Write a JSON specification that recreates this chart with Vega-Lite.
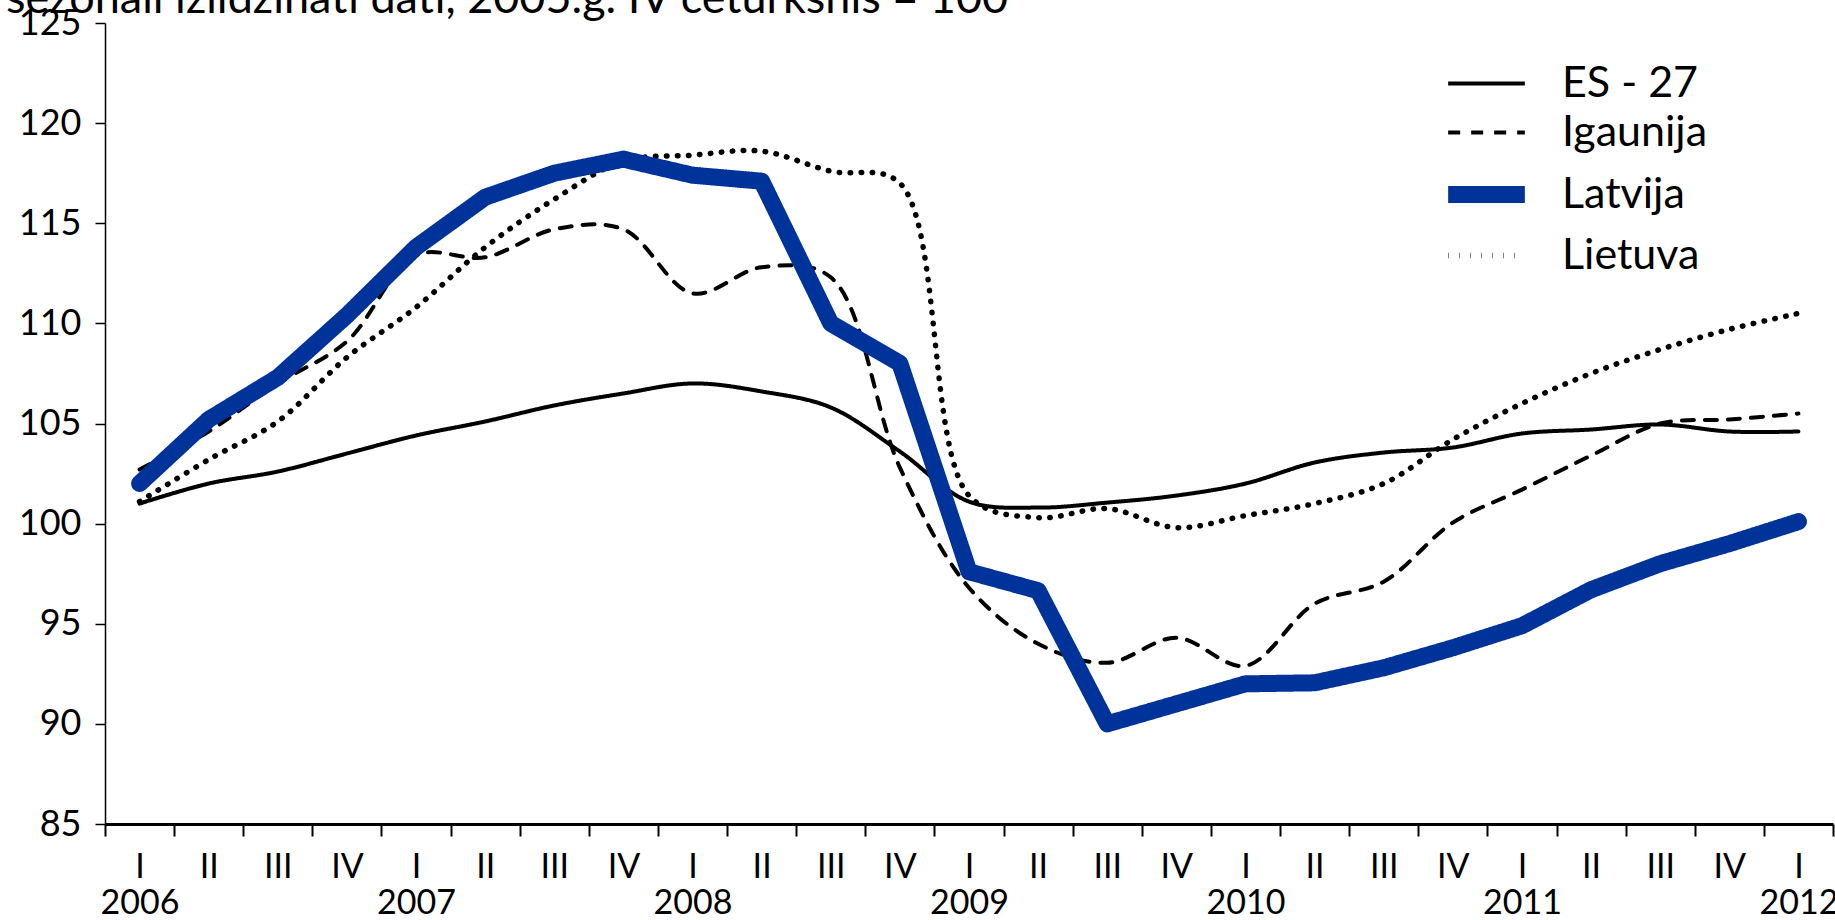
{
  "$schema": "https://vega.github.io/schema/vega-lite/v6.json",
  "autosize": "none",
  "width": 1728,
  "height": 801,
  "padding": {"left": 105, "top": 23, "right": 2, "bottom": 96},
  "background": "white",
  "title": {
    "text": "sezonāli izlīdzināti dati, 2005.g. IV ceturksnis = 100",
    "anchor": "start",
    "frame": "group",
    "orient": "top",
    "baseline": "alphabetic",
    "offset": 0,
    "dx": -99,
    "dy": 53,
    "font": "Lato",
    "fontSize": 45,
    "fontWeight": "normal",
    "color": "black"
  },
  "config": {
    "view": {"stroke": null},
    "font": "Lato"
  },
  "datasets": {
    "rows": [
      {"period": "2006-I", "series": "ES - 27", "value": 101.0},
      {"period": "2006-II", "series": "ES - 27", "value": 102.0},
      {"period": "2006-III", "series": "ES - 27", "value": 102.6},
      {"period": "2006-IV", "series": "ES - 27", "value": 103.5},
      {"period": "2007-I", "series": "ES - 27", "value": 104.4},
      {"period": "2007-II", "series": "ES - 27", "value": 105.1},
      {"period": "2007-III", "series": "ES - 27", "value": 105.9},
      {"period": "2007-IV", "series": "ES - 27", "value": 106.5},
      {"period": "2008-I", "series": "ES - 27", "value": 107.0},
      {"period": "2008-II", "series": "ES - 27", "value": 106.6},
      {"period": "2008-III", "series": "ES - 27", "value": 105.8},
      {"period": "2008-IV", "series": "ES - 27", "value": 103.6},
      {"period": "2009-I", "series": "ES - 27", "value": 101.1},
      {"period": "2009-II", "series": "ES - 27", "value": 100.8},
      {"period": "2009-III", "series": "ES - 27", "value": 101.05},
      {"period": "2009-IV", "series": "ES - 27", "value": 101.4},
      {"period": "2010-I", "series": "ES - 27", "value": 102.0},
      {"period": "2010-II", "series": "ES - 27", "value": 103.05},
      {"period": "2010-III", "series": "ES - 27", "value": 103.55},
      {"period": "2010-IV", "series": "ES - 27", "value": 103.8},
      {"period": "2011-I", "series": "ES - 27", "value": 104.5},
      {"period": "2011-II", "series": "ES - 27", "value": 104.7},
      {"period": "2011-III", "series": "ES - 27", "value": 104.95},
      {"period": "2011-IV", "series": "ES - 27", "value": 104.6},
      {"period": "2012-I", "series": "ES - 27", "value": 104.6},

      {"period": "2006-I", "series": "Igaunija", "value": 102.7},
      {"period": "2006-II", "series": "Igaunija", "value": 104.6},
      {"period": "2006-III", "series": "Igaunija", "value": 107.0},
      {"period": "2006-IV", "series": "Igaunija", "value": 109.1},
      {"period": "2007-I", "series": "Igaunija", "value": 113.4},
      {"period": "2007-II", "series": "Igaunija", "value": 113.3},
      {"period": "2007-III", "series": "Igaunija", "value": 114.7},
      {"period": "2007-IV", "series": "Igaunija", "value": 114.7},
      {"period": "2008-I", "series": "Igaunija", "value": 111.5},
      {"period": "2008-II", "series": "Igaunija", "value": 112.8},
      {"period": "2008-III", "series": "Igaunija", "value": 112.3},
      {"period": "2008-IV", "series": "Igaunija", "value": 102.8},
      {"period": "2009-I", "series": "Igaunija", "value": 96.8},
      {"period": "2009-II", "series": "Igaunija", "value": 94.0},
      {"period": "2009-III", "series": "Igaunija", "value": 93.05},
      {"period": "2009-IV", "series": "Igaunija", "value": 94.3},
      {"period": "2010-I", "series": "Igaunija", "value": 92.9},
      {"period": "2010-II", "series": "Igaunija", "value": 96.0},
      {"period": "2010-III", "series": "Igaunija", "value": 97.1},
      {"period": "2010-IV", "series": "Igaunija", "value": 100.05},
      {"period": "2011-I", "series": "Igaunija", "value": 101.7},
      {"period": "2011-II", "series": "Igaunija", "value": 103.4},
      {"period": "2011-III", "series": "Igaunija", "value": 105.0},
      {"period": "2011-IV", "series": "Igaunija", "value": 105.2},
      {"period": "2012-I", "series": "Igaunija", "value": 105.5},

      {"period": "2006-I", "series": "Latvija", "value": 102.0},
      {"period": "2006-II", "series": "Latvija", "value": 105.2},
      {"period": "2006-III", "series": "Latvija", "value": 107.3},
      {"period": "2006-IV", "series": "Latvija", "value": 110.4},
      {"period": "2007-I", "series": "Latvija", "value": 113.8},
      {"period": "2007-II", "series": "Latvija", "value": 116.3},
      {"period": "2007-III", "series": "Latvija", "value": 117.5},
      {"period": "2007-IV", "series": "Latvija", "value": 118.2},
      {"period": "2008-I", "series": "Latvija", "value": 117.4},
      {"period": "2008-II", "series": "Latvija", "value": 117.1},
      {"period": "2008-III", "series": "Latvija", "value": 110.0},
      {"period": "2008-IV", "series": "Latvija", "value": 108.0},
      {"period": "2009-I", "series": "Latvija", "value": 97.6},
      {"period": "2009-II", "series": "Latvija", "value": 96.65},
      {"period": "2009-III", "series": "Latvija", "value": 90.0},
      {"period": "2009-IV", "series": "Latvija", "value": 91.0},
      {"period": "2010-I", "series": "Latvija", "value": 92.0},
      {"period": "2010-II", "series": "Latvija", "value": 92.05},
      {"period": "2010-III", "series": "Latvija", "value": 92.8},
      {"period": "2010-IV", "series": "Latvija", "value": 93.8},
      {"period": "2011-I", "series": "Latvija", "value": 94.9},
      {"period": "2011-II", "series": "Latvija", "value": 96.7},
      {"period": "2011-III", "series": "Latvija", "value": 98.0},
      {"period": "2011-IV", "series": "Latvija", "value": 99.0},
      {"period": "2012-I", "series": "Latvija", "value": 100.1},

      {"period": "2006-I", "series": "Lietuva", "value": 101.1},
      {"period": "2006-II", "series": "Lietuva", "value": 103.2},
      {"period": "2006-III", "series": "Lietuva", "value": 105.1},
      {"period": "2006-IV", "series": "Lietuva", "value": 108.3},
      {"period": "2007-I", "series": "Lietuva", "value": 110.8},
      {"period": "2007-II", "series": "Lietuva", "value": 113.8},
      {"period": "2007-III", "series": "Lietuva", "value": 116.2},
      {"period": "2007-IV", "series": "Lietuva", "value": 118.1},
      {"period": "2008-I", "series": "Lietuva", "value": 118.4},
      {"period": "2008-II", "series": "Lietuva", "value": 118.6},
      {"period": "2008-III", "series": "Lietuva", "value": 117.6},
      {"period": "2008-IV", "series": "Lietuva", "value": 117.0},
      {"period": "2009-I", "series": "Lietuva", "value": 101.4},
      {"period": "2009-II", "series": "Lietuva", "value": 100.3},
      {"period": "2009-III", "series": "Lietuva", "value": 100.75},
      {"period": "2009-IV", "series": "Lietuva", "value": 99.8},
      {"period": "2010-I", "series": "Lietuva", "value": 100.4},
      {"period": "2010-II", "series": "Lietuva", "value": 101.0},
      {"period": "2010-III", "series": "Lietuva", "value": 102.0},
      {"period": "2010-IV", "series": "Lietuva", "value": 104.2},
      {"period": "2011-I", "series": "Lietuva", "value": 106.0},
      {"period": "2011-II", "series": "Lietuva", "value": 107.5},
      {"period": "2011-III", "series": "Lietuva", "value": 108.7},
      {"period": "2011-IV", "series": "Lietuva", "value": 109.7},
      {"period": "2012-I", "series": "Lietuva", "value": 110.5}
    ]
  },
  "data": {"name": "rows"},
  "encoding": {
    "x": {
      "field": "period",
      "type": "ordinal",
      "sort": null,
      "bandPosition": 0.5,
      "scale": {"type": "band", "paddingInner": 0, "paddingOuter": 0},
      "axis": {
        "title": null,
        "labelAngle": 0,
        "labelFont": "Lato",
        "labelFontSize": 34,
        "labelColor": "black",
        "labelLineHeight": 36,
        "labelPadding": 14,
        "labelBaseline": "top",
        "labelOverlap": false,
        "labelBound": false,
        "labelFlush": false,
        "labelExpr": "split(datum.value,'-')[1] == 'I' ? [split(datum.value,'-')[1], split(datum.value,'-')[0]] : [split(datum.value,'-')[1], '']",
        "tickBand": "extent",
        "tickSize": 12,
        "tickColor": "black",
        "tickWidth": 2,
        "domainColor": "black",
        "domainWidth": 3,
        "grid": false
      }
    },
    "y": {
      "field": "value",
      "type": "quantitative",
      "scale": {"domain": [85, 125], "nice": false, "zero": false},
      "axis": {
        "title": null,
        "values": [85, 90, 95, 100, 105, 110, 115, 120, 125],
        "labelFont": "Lato",
        "labelFontSize": 36,
        "labelColor": "black",
        "labelPadding": 14,
        "tickSize": 10,
        "tickColor": "black",
        "tickWidth": 1.5,
        "domainColor": "black",
        "domainWidth": 1.5,
        "grid": false
      }
    },
    "color": {
      "field": "series",
      "type": "nominal",
      "scale": {
        "domain": ["ES - 27", "Igaunija", "Latvija", "Lietuva"],
        "range": ["black", "black", "#003399", "black"]
      },
      "legend": {
        "title": null,
        "orient": "none",
        "legendX": 1360,
        "legendY": 39,
        "symbolType": "M-2.95,0H2.95",
        "symbolSize": 676,
        "labelFont": "Lato",
        "labelFontSize": 43,
        "labelColor": "black",
        "labelOffset": 54,
        "rowPadding": 5,
        "labelLimit": 400
      }
    },
    "strokeDash": {
      "field": "series",
      "type": "nominal",
      "scale": {
        "domain": ["ES - 27", "Igaunija", "Latvija", "Lietuva"],
        "range": [[1, 0], [12, 11], [1, 0], [0.5, 10.5]]
      }
    },
    "strokeWidth": {
      "field": "series",
      "type": "nominal",
      "scale": {
        "type": "ordinal",
        "domain": ["ES - 27", "Igaunija", "Latvija", "Lietuva"],
        "range": [4, 4, 17, 5.5]
      }
    }
  },
  "layer": [
    {
      "transform": [{"filter": "datum.series != 'Latvija'"}],
      "mark": {"type": "line", "interpolate": "catmull-rom", "strokeCap": "round", "strokeJoin": "round"}
    },
    {
      "transform": [{"filter": "datum.series == 'Latvija'"}],
      "mark": {"type": "line", "interpolate": "linear", "strokeCap": "round", "strokeJoin": "round"}
    }
  ]
}
